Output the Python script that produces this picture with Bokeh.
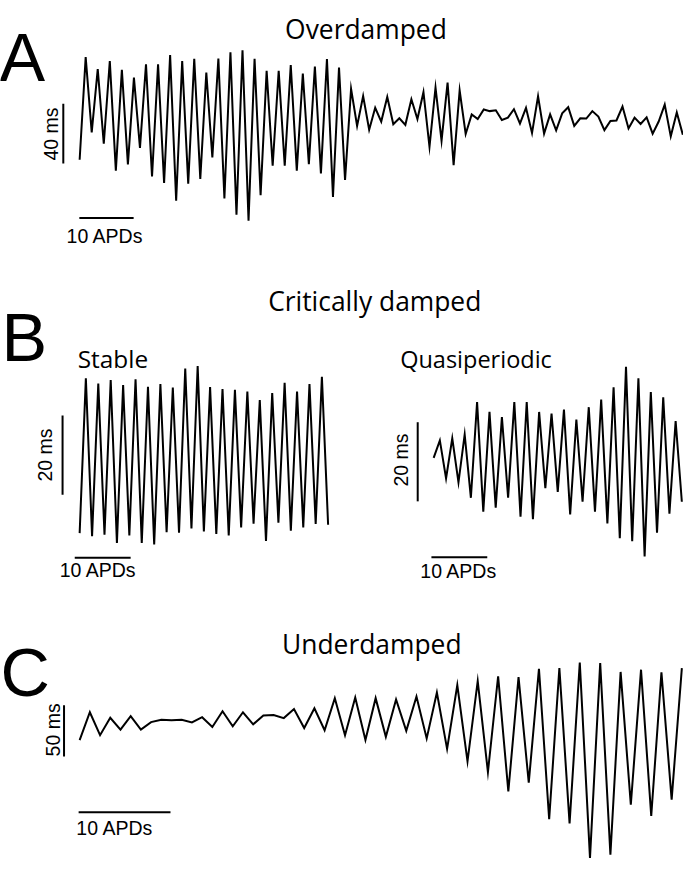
import math
from bokeh.plotting import figure
from bokeh.models import Range1d, Label
from bokeh.core.properties import value
from bokeh.embed import file_html
from bokeh.resources import INLINE

# ---------------- data (ms, one value per APD) ----------------
overdamped_ms = [41.3, 110.1, 59.7, 102.0, 52.0, 107.4, 34.0, 101.5, 38.2, 96.3,
                 49.3, 105.3, 30.1, 105.3, 25.7, 111.4, 13.8, 107.4, 25.2, 109.0,
                 28.5, 99.8, 42.8, 109.2, 15.3, 113.4, 4.4, 114.7, 0.5, 109.0,
                 17.6, 100.9, 37.3, 100.9, 37.3, 104.8, 34.0, 99.1, 38.4, 103.8,
                 32.2, 108.8, 16.4, 103.1, 27.8, 88.8, 64.0, 84.0, 61.4, 76.1,
                 66.9, 83.4, 65.1, 69.1, 64.7, 81.8, 68.6, 86.6, 50.0, 89.7,
                 54.1, 93.0, 37.7, 87.7, 58.6, 71.7, 68.6, 75.0, 73.9, 74.5,
                 68.0, 69.5, 75.2, 65.6, 76.1, 59.2, 83.8, 58.8, 71.7, 61.0,
                 72.4, 76.5, 64.0, 69.1, 68.9, 73.9, 70.2, 61.2, 67.3, 67.6,
                 77.0, 62.3, 69.5, 65.3, 69.7, 58.8, 66.9, 78.3, 57.0, 73.0,
                 58.1]

stable_ms = [3.1, 42.2, 2.3, 40.9, 2.7, 41.8, 0.6, 40.5, 2.5, 42.0,
             0.6, 40.1, 0.2, 40.8, 3.3, 39.9, 3.2, 44.7, 4.3, 45.3,
             3.5, 40.0, 2.9, 39.5, 2.5, 39.3, 4.5, 38.9, 5.5, 36.7,
             1.1, 38.5, 5.7, 41.1, 3.7, 38.9, 4.5, 40.8, 5.4, 42.6,
             5.2]

quasi_ms = [25.1, 29.5, 19.9, 30.0, 18.9, 31.0, 15.0, 39.2, 11.5, 36.7,
            12.5, 35.4, 15.0, 39.2, 10.2, 39.2, 9.6, 36.7, 17.4, 36.3,
            16.5, 37.3, 10.8, 34.8, 14.0, 37.9, 11.5, 39.8, 8.5, 42.9,
            4.8, 48.1, 4.0, 45.2, 0.2, 41.7, 6.2, 40.4, 11.0, 34.4,
            14.0]

underdamped_ms = [117.0, 144.2, 121.8, 138.8, 127.2, 140.4, 127.2, 134.6, 136.8, 136.3,
                  136.8, 134.3, 139.4, 129.8, 145.2, 130.5, 144.2, 132.4, 141.1, 141.6,
                  138.5, 147.4, 128.8, 148.1, 126.6, 158.0, 121.8, 158.7, 117.0, 158.0,
                  120.2, 156.7, 126.0, 159.6, 118.6, 163.5, 108.4, 170.9, 96.2, 174.7,
                  85.6, 179.5, 66.6, 178.6, 75.3, 186.8, 39.4, 187.5, 35.3, 193.0,
                  1.6, 192.3, 4.8, 183.7, 53.6, 185.9, 42.6, 183.4, 58.7, 187.5]

# ---------------- layout ----------------
RW, RH = 699, 875          # reference coordinate frame
W, H = 683, 859            # canvas (fits inside 8px page margin)
S = W / RW

p = figure(width=W, height=H, x_range=Range1d(0, RW), y_range=Range1d(RH, 0),
           output_backend="svg", toolbar_location=None,
           x_axis_location=None, y_axis_location=None, min_border=0)
p.grid.visible = False
p.outline_line_color = None
p.background_fill_color = "white"
p.border_fill_color = "white"

# panel placements: name -> (x of first APD, px per APD, y of 0 ms, px per ms)
panels = {
    "A": (81.0, 6.173, 225.0, 1.52),
    "Bs": (81.0, 6.357, 555.0, 4.03),
    "Bq": (443.3, 6.35, 567.0, 4.03),
    "C": (81.0, 10.446, 875.0, 1.04),
}
exr, eyr = {}, {}
for name, (x0, dx, y0, ky) in panels.items():
    exr[name] = Range1d((0 - x0) / dx, (RW - x0) / dx)
    eyr[name] = Range1d((y0 - RH) / ky, y0 / ky)
p.extra_x_ranges = exr
p.extra_y_ranges = eyr

series = {"A": overdamped_ms, "Bs": stable_ms, "Bq": quasi_ms, "C": underdamped_ms}
for name, vals in series.items():
    p.line(x=list(range(len(vals))), y=vals, x_range_name=name, y_range_name=name,
           line_color="black", line_width=2, line_join="miter")

# scale bars: name -> (vbar x, vbar y start, ms length, hbar y, hbar x start, APD span)
bars = {
    "A": (-2.71, 38.8, 40, 2.2, -0.05, 9),
    "Bs": (-2.75, 12.8, 20, -3.15, -0.79, 9),
    "Bq": (-2.57, 14.1, 20, 0.0, -0.36, 9),
    "C": (-1.53, 101.0, 50, 46.2, -0.1, 9),
}
for name, (vx, vy, vl, hy, hx, hl) in bars.items():
    p.segment(x0=[vx, hx], y0=[vy, hy], x1=[vx, hx + hl], y1=[vy + vl, hy],
              x_range_name=name, y_range_name=name, line_color="black", line_width=2)

def label(x, y, text, font, size, align="left", baseline="alphabetic", angle=0.0):
    p.add_layout(Label(x=x, y=y, text=text, text_font=font,
                       text_font_size=f"{size * S:.1f}px", text_align=align,
                       text_baseline=baseline, angle=angle, text_color="black"))

# panel letters
label(-1, 58, "A", "Liberation Sans", 70)
label(1, 343, "B", "Liberation Sans", 70)
label(0, 684, "C", "Liberation Sans", 70)

# titles
label(374, 29, "Overdamped", "Open Sans", 27, align="center")
label(383, 306, "Critically damped", "Open Sans", 27, align="center")
label(380, 655, "Underdamped", "Open Sans", 27, align="center")
label(79, 365, "Stable", "Open Sans", 25)
label(409, 365, "Quasiperiodic", "Open Sans", 24)

# scale bar texts
rot = math.pi / 2
label(52, 136, "40 ms", "Liberation Sans", 20, align="center", baseline="middle", angle=rot)
label(107, 240, "10 APDs", "Liberation Sans", 20, align="center", baseline="middle")
label(46, 463, "20 ms", "Liberation Sans", 20, align="center", baseline="middle", angle=rot)
label(100, 580, "10 APDs", "Liberation Sans", 20, align="center", baseline="middle")
label(410, 468, "20 ms", "Liberation Sans", 20, align="center", baseline="middle", angle=rot)
label(469, 581, "10 APDs", "Liberation Sans", 20, align="center", baseline="middle")
label(54, 743, "50 ms", "Liberation Sans", 20, align="center", baseline="middle", angle=rot)
label(117, 843, "10 APDs", "Liberation Sans", 20, align="center", baseline="middle")

open("out.html", "w").write(file_html(p, INLINE))
